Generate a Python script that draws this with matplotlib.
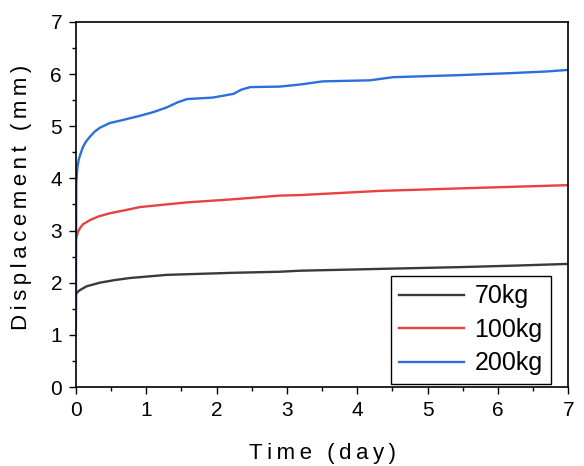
import numpy as np
import matplotlib.pyplot as plt
from matplotlib.ticker import MultipleLocator

plt.rcParams["font.family"] = ["Liberation Sans", "DejaVu Sans"]

# values
t_70 = [0.0, 0.0, 0.02, 0.06, 0.15, 0.34, 0.55, 0.77, 1.29, 2.24, 2.9, 3.19,
        4.5, 5.5, 6.3, 7.0]
d_70 = [1.5, 1.77, 1.82, 1.86, 1.93, 2.0, 2.05, 2.09, 2.15, 2.19, 2.21, 2.23,
        2.27, 2.30, 2.33, 2.36]

t_100 = [0.0, 0.01, 0.03, 0.06, 0.1, 0.2, 0.32, 0.48, 0.7, 0.91, 1.58, 2.24,
         2.9, 3.19, 4.32, 5.75, 7.0]
d_100 = [2.85, 2.88, 2.98, 3.05, 3.12, 3.2, 3.27, 3.33, 3.39, 3.45, 3.54, 3.6,
         3.67, 3.68, 3.76, 3.82, 3.87]

t_200 = [0.0, 0.005, 0.02, 0.04, 0.06, 0.1, 0.14, 0.2, 0.27, 0.34, 0.48, 0.67,
         0.91, 1.1, 1.29, 1.45, 1.58, 1.95, 2.24, 2.35, 2.48, 2.9, 3.19, 3.51,
         4.18, 4.51, 5.46, 6.22, 6.7, 7.0]
d_200 = [1.1, 3.9, 4.2, 4.36, 4.45, 4.6, 4.7, 4.8, 4.9, 4.97, 5.06, 5.12,
         5.2, 5.27, 5.36, 5.46, 5.52, 5.55, 5.62, 5.7, 5.75, 5.76, 5.8, 5.86,
         5.88, 5.94, 5.98, 6.02, 6.05, 6.08]

labels = ["70kg", "100kg", "200kg"]
colors = ["#3a3a3a", "#e8413f", "#2b6fdc"]

fig = plt.figure(figsize=(5.84, 4.66), dpi=100)
ax = fig.add_axes([0.130, 0.1695, 0.843, 0.7835])

for t, d, lab, c in zip([t_70, t_100, t_200], [d_70, d_100, d_200], labels, colors):
    ax.plot(t, d, color=c, lw=1.7, label=lab)

ax.set_xlim(0, 7)
ax.set_ylim(0, 7)
ax.xaxis.set_major_locator(MultipleLocator(1))
ax.xaxis.set_minor_locator(MultipleLocator(0.5))
ax.yaxis.set_major_locator(MultipleLocator(1))
ax.yaxis.set_minor_locator(MultipleLocator(0.5))
ax.tick_params(which="major", direction="out", length=5, width=1, labelsize=15, pad=5)
ax.tick_params(which="minor", direction="out", length=3, width=1)
for s in ax.spines.values():
    s.set_linewidth(1.2)

sp = "\u2009"
ax.set_xlabel(sp.join("Time (day)"), fontsize=16)
ax.set_ylabel(sp.join("Displacement (mm)"), fontsize=16)
ax.xaxis.set_label_coords(0.5, -0.152)
ax.yaxis.set_label_coords(-0.09, 0.52)

leg = ax.legend(loc="lower right", bbox_to_anchor=(0.9654, 0.008), fontsize=18,
                handlelength=2.6, fancybox=False, edgecolor="black", framealpha=1,
                borderpad=0.35, labelspacing=0.38, handletextpad=0.4,
                borderaxespad=0)
leg.get_frame().set_linewidth(1.0)

fig.savefig("out.png", dpi=100)
